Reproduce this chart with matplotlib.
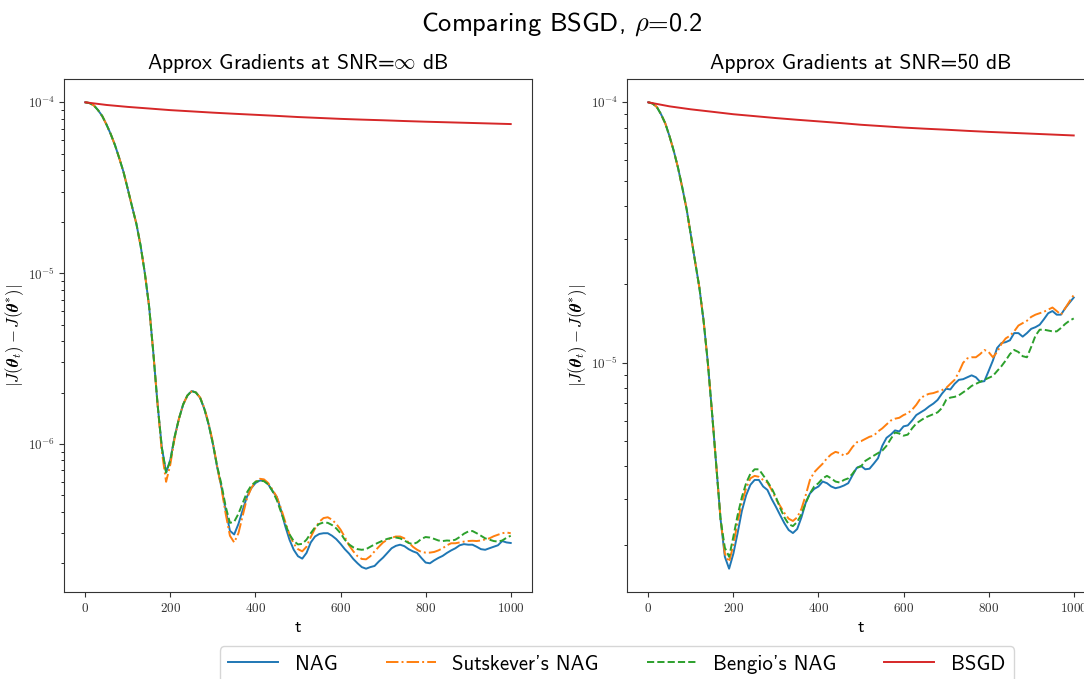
import numpy as np
import matplotlib
matplotlib.use("Agg")
import matplotlib.pyplot as plt
from matplotlib.ticker import FuncFormatter, NullFormatter, LogLocator

# ---------------- data ----------------
t_step = np.arange(0, 1001, 10)
t_bsgd = np.arange(0, 1001, 50)

bsgd = [1.0e-4, 9.65e-5, 9.4e-5, 9.2e-5, 9.0e-5, 8.85e-5, 8.7e-5, 8.57e-5, 8.45e-5,
        8.33e-5, 8.2e-5, 8.1e-5, 8.0e-5, 7.92e-5, 7.85e-5, 7.77e-5, 7.7e-5, 7.64e-5,
        7.58e-5, 7.52e-5, 7.46e-5]

# common initial descent t = 0..150
descent = [1.00e-4, 9.9e-5, 9.6e-5, 9.0e-5, 8.3e-5, 7.4e-5, 6.5e-5, 5.6e-5, 4.7e-5,
           3.9e-5, 3.1e-5, 2.45e-5, 1.95e-5, 1.45e-5, 1.0e-5, 6.4e-6]

# SNR = inf, t = 160..1000
nag_inf = [3.4e-6, 1.7e-6, 9.5e-7, 6.8e-7, 8.1e-7, 1.1e-6, 1.4e-6, 1.7e-6, 1.92e-6, 2.04e-6,
           2.0e-6, 1.86e-6, 1.6e-6, 1.3e-6, 1.0e-6, 7.3e-7, 5.6e-7, 4.1e-7, 3.1e-7, 2.95e-7,
           3.4e-7, 4.1e-7, 4.9e-7, 5.5e-7, 5.9e-7, 6.1e-7, 6.1e-7, 5.8e-7, 5.3e-7, 4.9e-7,
           4.1e-7, 3.3e-7, 2.75e-7, 2.4e-7, 2.2e-7, 2.13e-7, 2.3e-7, 2.65e-7, 2.87e-7, 2.97e-7,
           3.0e-7, 3.0e-7, 2.9e-7, 2.77e-7, 2.6e-7, 2.42e-7, 2.28e-7, 2.12e-7, 2.0e-7, 1.9e-7,
           1.86e-7, 1.9e-7, 1.93e-7, 2.05e-7, 2.16e-7, 2.3e-7, 2.45e-7, 2.53e-7, 2.57e-7, 2.52e-7,
           2.42e-7, 2.35e-7, 2.3e-7, 2.15e-7, 2.02e-7, 2.0e-7, 2.08e-7, 2.15e-7, 2.21e-7, 2.3e-7,
           2.38e-7, 2.45e-7, 2.55e-7, 2.59e-7, 2.57e-7, 2.57e-7, 2.5e-7, 2.42e-7, 2.4e-7, 2.45e-7,
           2.5e-7, 2.55e-7, 2.7e-7, 2.65e-7, 2.63e-7]
sut_inf = [3.4e-6, 1.7e-6, 9.0e-7, 6.0e-7, 7.6e-7, 1.08e-6, 1.4e-6, 1.7e-6, 1.92e-6, 2.03e-6,
           2.0e-6, 1.87e-6, 1.62e-6, 1.32e-6, 1.02e-6, 7.4e-7, 5.5e-7, 3.9e-7, 2.9e-7, 2.65e-7,
           3.0e-7, 3.8e-7, 4.8e-7, 5.5e-7, 6.0e-7, 6.25e-7, 6.2e-7, 5.9e-7, 5.4e-7, 4.9e-7,
           4.2e-7, 3.5e-7, 2.95e-7, 2.6e-7, 2.42e-7, 2.35e-7, 2.5e-7, 2.85e-7, 3.2e-7, 3.5e-7,
           3.68e-7, 3.72e-7, 3.6e-7, 3.4e-7, 3.15e-7, 2.85e-7, 2.55e-7, 2.35e-7, 2.2e-7, 2.12e-7,
           2.11e-7, 2.2e-7, 2.35e-7, 2.5e-7, 2.65e-7, 2.75e-7, 2.82e-7, 2.87e-7, 2.87e-7, 2.8e-7,
           2.65e-7, 2.5e-7, 2.4e-7, 2.33e-7, 2.31e-7, 2.31e-7, 2.33e-7, 2.38e-7, 2.45e-7, 2.55e-7,
           2.62e-7, 2.62e-7, 2.65e-7, 2.68e-7, 2.7e-7, 2.71e-7, 2.7e-7, 2.72e-7, 2.76e-7, 2.8e-7,
           2.88e-7, 2.94e-7, 3.0e-7, 3.03e-7, 3.0e-7]
ben_inf = [3.4e-6, 1.7e-6, 9.5e-7, 6.8e-7, 8.0e-7, 1.1e-6, 1.4e-6, 1.7e-6, 1.92e-6, 2.04e-6,
           2.0e-6, 1.86e-6, 1.6e-6, 1.3e-6, 1.0e-6, 7.4e-7, 5.8e-7, 4.3e-7, 3.45e-7, 3.5e-7,
           3.9e-7, 4.5e-7, 5.2e-7, 5.7e-7, 6.0e-7, 6.1e-7, 6.05e-7, 5.8e-7, 5.3e-7, 4.7e-7,
           4.0e-7, 3.4e-7, 2.95e-7, 2.7e-7, 2.58e-7, 2.6e-7, 2.75e-7, 3.0e-7, 3.25e-7, 3.4e-7,
           3.47e-7, 3.45e-7, 3.35e-7, 3.2e-7, 3.0e-7, 2.75e-7, 2.58e-7, 2.48e-7, 2.42e-7, 2.4e-7,
           2.42e-7, 2.5e-7, 2.58e-7, 2.65e-7, 2.72e-7, 2.78e-7, 2.82e-7, 2.83e-7, 2.8e-7, 2.72e-7,
           2.63e-7, 2.59e-7, 2.65e-7, 2.78e-7, 2.85e-7, 2.83e-7, 2.78e-7, 2.72e-7, 2.7e-7, 2.72e-7,
           2.71e-7, 2.75e-7, 2.85e-7, 2.98e-7, 3.07e-7, 3.09e-7, 3.0e-7, 2.9e-7, 2.8e-7, 2.75e-7,
           2.7e-7, 2.68e-7, 2.72e-7, 2.82e-7, 2.9e-7]

# SNR = 50 dB, t = 160..1000
nag_50 = [4.0e-6, 2.5e-6, 1.8e-6, 1.62e-6, 1.85e-6, 2.22e-6, 2.7e-6, 3.1e-6, 3.4e-6, 3.55e-6,
          3.55e-6, 3.35e-6, 3.25e-6, 3.0e-6, 2.8e-6, 2.6e-6, 2.42e-6, 2.28e-6, 2.22e-6, 2.3e-6,
          2.55e-6, 2.9e-6, 3.15e-6, 3.28e-6, 3.35e-6, 3.5e-6, 3.45e-6, 3.35e-6, 3.3e-6, 3.33e-6,
          3.38e-6, 3.45e-6, 3.7e-6, 3.95e-6, 4.02e-6, 3.9e-6, 3.92e-6, 4.1e-6, 4.3e-6, 4.8e-6,
          5.15e-6, 5.3e-6, 5.5e-6, 5.45e-6, 5.7e-6, 5.75e-6, 6.0e-6, 6.3e-6, 6.45e-6, 6.6e-6,
          6.8e-6, 6.97e-6, 7.2e-6, 7.6e-6, 7.95e-6, 7.9e-6, 8.3e-6, 8.6e-6, 8.65e-6, 8.8e-6,
          8.95e-6, 8.8e-6, 8.45e-6, 8.5e-6, 9.3e-6, 1.02e-5, 1.14e-5, 1.19e-5, 1.2e-5, 1.22e-5,
          1.3e-5, 1.3e-5, 1.26e-5, 1.3e-5, 1.35e-5, 1.37e-5, 1.4e-5, 1.47e-5, 1.55e-5, 1.58e-5,
          1.53e-5, 1.53e-5, 1.62e-5, 1.7e-5, 1.78e-5]
sut_50 = [4.0e-6, 2.5e-6, 1.85e-6, 1.72e-6, 2.0e-6, 2.45e-6, 2.9e-6, 3.3e-6, 3.6e-6, 3.68e-6,
          3.65e-6, 3.55e-6, 3.47e-6, 3.25e-6, 3.0e-6, 2.82e-6, 2.65e-6, 2.52e-6, 2.47e-6, 2.55e-6,
          2.75e-6, 3.1e-6, 3.55e-6, 3.8e-6, 3.95e-6, 4.1e-6, 4.3e-6, 4.45e-6, 4.55e-6, 4.5e-6,
          4.4e-6, 4.5e-6, 4.75e-6, 4.95e-6, 5.0e-6, 5.1e-6, 5.2e-6, 5.25e-6, 5.45e-6, 5.6e-6,
          5.8e-6, 6.0e-6, 6.1e-6, 6.15e-6, 6.3e-6, 6.4e-6, 6.6e-6, 6.9e-6, 7.3e-6, 7.5e-6,
          7.6e-6, 7.65e-6, 7.75e-6, 7.85e-6, 8.0e-6, 8.3e-6, 8.6e-6, 9.2e-6, 1.0e-5, 1.04e-5,
          1.05e-5, 1.05e-5, 1.08e-5, 1.12e-5, 1.1e-5, 1.05e-5, 1.1e-5, 1.18e-5, 1.24e-5, 1.27e-5,
          1.32e-5, 1.39e-5, 1.42e-5, 1.45e-5, 1.5e-5, 1.53e-5, 1.55e-5, 1.57e-5, 1.6e-5, 1.63e-5,
          1.58e-5, 1.53e-5, 1.62e-5, 1.72e-5, 1.82e-5]
ben_50 = [4.0e-6, 2.5e-6, 1.95e-6, 1.8e-6, 2.15e-6, 2.6e-6, 3.05e-6, 3.45e-6, 3.75e-6, 3.9e-6,
          3.9e-6, 3.7e-6, 3.5e-6, 3.3e-6, 3.05e-6, 2.77e-6, 2.55e-6, 2.4e-6, 2.36e-6, 2.45e-6,
          2.62e-6, 2.9e-6, 3.15e-6, 3.35e-6, 3.45e-6, 3.6e-6, 3.68e-6, 3.6e-6, 3.5e-6, 3.47e-6,
          3.55e-6, 3.6e-6, 3.75e-6, 3.95e-6, 4.0e-6, 4.2e-6, 4.3e-6, 4.4e-6, 4.5e-6, 4.6e-6,
          4.8e-6, 5.1e-6, 5.4e-6, 5.35e-6, 5.25e-6, 5.3e-6, 5.6e-6, 5.85e-6, 6.0e-6, 6.15e-6,
          6.25e-6, 6.35e-6, 6.45e-6, 6.7e-6, 7.2e-6, 7.35e-6, 7.4e-6, 7.5e-6, 7.7e-6, 7.9e-6,
          8.15e-6, 8.3e-6, 8.45e-6, 8.6e-6, 8.75e-6, 8.9e-6, 9.3e-6, 9.7e-6, 1.02e-5, 1.08e-5,
          1.12e-5, 1.1e-5, 1.06e-5, 1.05e-5, 1.15e-5, 1.27e-5, 1.34e-5, 1.34e-5, 1.33e-5, 1.32e-5,
          1.32e-5, 1.36e-5, 1.41e-5, 1.45e-5, 1.48e-5]

labels = ["NAG", "Sutskever's NAG", "Bengio's NAG", "BSGD"]
titles = [r"Approx Gradients at SNR=$\infty$ dB", "Approx Gradients at SNR=50 dB"]
suptitle = r"Comparing BSGD, $\rho$=0.2"

# ---------------- style ----------------
plt.rcParams['font.family'] = ['cmss10', 'DejaVu Sans']
plt.rcParams['mathtext.fontset'] = 'cm'
plt.rcParams['axes.unicode_minus'] = False
plt.rcParams['axes.formatter.use_mathtext'] = True

fig = plt.figure(figsize=(10.84, 6.79), dpi=100)
ax_l = fig.add_axes([64/1084, 87/679, 468/1084, 513/679])
ax_r = fig.add_axes([627/1084, 87/679, 468/1084, 513/679])

styles = [dict(color='C0', ls='-'), dict(color='C1', ls='-.'),
          dict(color='C2', ls='--'), dict(color='C3', ls='-')]

panels = [(ax_l, [nag_inf, sut_inf, ben_inf]), (ax_r, [nag_50, sut_50, ben_50])]
handles = []
for i, (ax, series) in enumerate(panels):
    for j, tail in enumerate(series):
        h, = ax.plot(t_step, descent + tail, lw=1.4, label=labels[j], **styles[j])
        if i == 0:
            handles.append(h)
    h, = ax.plot(t_bsgd, bsgd, lw=1.4, label=labels[3], **styles[3])
    if i == 0:
        handles.append(h)
    ax.set_yscale('log')
    ax.set_title(titles[i], fontsize=15.5, pad=7)
    ax.set_xlabel('t', fontsize=13)
    ax.set_ylabel(r'$|J(\boldsymbol{\theta}_t) - J(\boldsymbol{\theta}^{*})|$', fontsize=12, labelpad=1)
    ax.yaxis.set_major_locator(LogLocator(base=10))
    ax.yaxis.set_major_formatter(FuncFormatter(lambda v, p: r'$10^{%d}$' % int(round(np.log10(v)))))
    ax.yaxis.set_minor_formatter(NullFormatter())
    ax.set_xticks([0, 200, 400, 600, 800, 1000])
    ax.xaxis.set_major_formatter(FuncFormatter(lambda v, p: r'$%d$' % int(v)))
    ax.tick_params(labelsize=9.5, colors='#333333')
    ax.tick_params(axis='y', which='major', pad=3)
    for s in ax.spines.values():
        s.set_color('#333333')

fig.suptitle(suptitle, fontsize=19, x=562/1084, y=0.985)
fig.legend(handles=handles, loc='upper center', bbox_to_anchor=(617/1084, 1 - 636/679),
           ncol=4, fontsize=15, handlelength=2.4, columnspacing=2.3, frameon=True)

fig.savefig('out.png', dpi=100)
